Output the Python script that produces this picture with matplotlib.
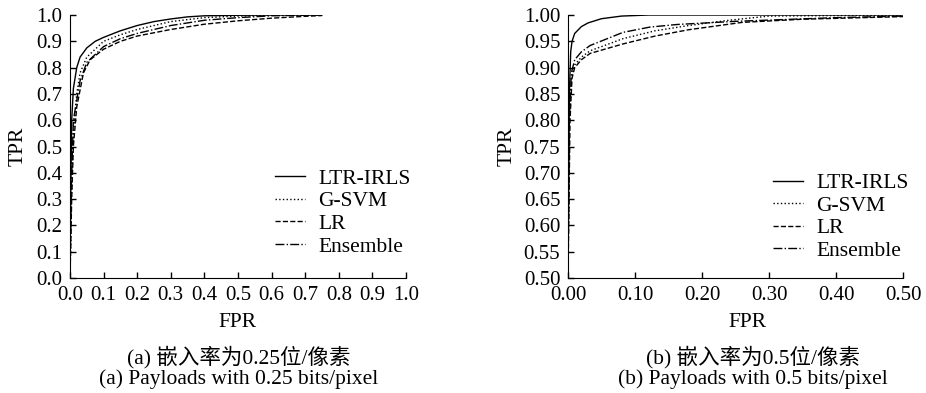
import matplotlib
matplotlib.use("Agg")
import matplotlib.pyplot as plt

plt.rcParams['font.family'] = ['Liberation Serif', 'Noto Sans CJK SC']
plt.rcParams['font.size'] = 15.5
plt.rcParams['axes.unicode_minus'] = False

# (a) payload 0.25 bits/pixel
a_ltr_x = [0, 0.002, 0.005, 0.01, 0.02, 0.03, 0.05, 0.075, 0.1, 0.15, 0.2, 0.25, 0.3, 0.35, 0.4, 0.5, 0.6, 0.75]
a_ltr_y = [0, 0.3, 0.6, 0.72, 0.8, 0.84, 0.875, 0.9, 0.915, 0.94, 0.96, 0.975, 0.985, 0.993, 0.997, 0.999, 1.0, 1.0]
a_svm_x = [0, 0.004, 0.01, 0.02, 0.03, 0.05, 0.1, 0.15, 0.2, 0.3, 0.4, 0.5, 0.6, 0.75]
a_svm_y = [0, 0.3, 0.55, 0.7, 0.78, 0.84, 0.9, 0.925, 0.945, 0.975, 0.99, 0.996, 0.999, 1.0]
a_lr_x = [0, 0.005, 0.01, 0.02, 0.04, 0.06, 0.1, 0.15, 0.2, 0.3, 0.4, 0.5, 0.6, 0.7, 0.75]
a_lr_y = [0, 0.3, 0.5, 0.65, 0.78, 0.83, 0.87, 0.9, 0.92, 0.945, 0.965, 0.978, 0.988, 0.995, 0.998]
a_ens_x = [0, 0.004, 0.01, 0.03, 0.05, 0.1, 0.15, 0.2, 0.3, 0.4, 0.5, 0.6, 0.75]
a_ens_y = [0, 0.35, 0.6, 0.75, 0.82, 0.88, 0.91, 0.93, 0.96, 0.98, 0.99, 0.997, 1.0]

# (b) payload 0.5 bits/pixel
b_ltr_x = [0, 0.002, 0.004, 0.006, 0.01, 0.02, 0.03, 0.05, 0.08, 0.12, 0.5]
b_ltr_y = [0.5, 0.85, 0.93, 0.95, 0.965, 0.978, 0.985, 0.993, 0.998, 1.0, 1.0]
b_svm_x = [0, 0.002, 0.005, 0.01, 0.02, 0.033, 0.082, 0.13, 0.18, 0.24, 0.3, 0.5]
b_svm_y = [0.5, 0.8, 0.88, 0.905, 0.92, 0.932, 0.955, 0.97, 0.98, 0.99, 0.998, 1.0]
b_lr_x = [0, 0.001, 0.003, 0.006, 0.01, 0.02, 0.033, 0.082, 0.13, 0.18, 0.26, 0.35, 0.5]
b_lr_y = [0.5, 0.6, 0.8, 0.88, 0.9, 0.915, 0.927, 0.945, 0.96, 0.972, 0.986, 0.992, 0.997]
b_ens_x = [0, 0.002, 0.005, 0.01, 0.02, 0.033, 0.082, 0.122, 0.163, 0.25, 0.4, 0.5]
b_ens_y = [0.5, 0.8, 0.89, 0.915, 0.93, 0.942, 0.967, 0.977, 0.982, 0.988, 0.995, 0.998]

labels = ['LTR-IRLS', 'G-SVM', 'LR', 'Ensemble']
styles = ['-', ':', '--', '-.']

fig = plt.figure(figsize=(9.26, 3.93), dpi=100)
ax1 = fig.add_axes([0.0756, 0.2926, 0.3628, 0.6692])
ax2 = fig.add_axes([0.6134, 0.2926, 0.3618, 0.6692])

series_a = [(a_ltr_x, a_ltr_y), (a_svm_x, a_svm_y), (a_lr_x, a_lr_y), (a_ens_x, a_ens_y)]
series_b = [(b_ltr_x, b_ltr_y), (b_svm_x, b_svm_y), (b_lr_x, b_lr_y), (b_ens_x, b_ens_y)]

legend_pos = {ax1: (0.61, 0.249), ax2: (0.612, 0.232)}

for ax, series in [(ax1, series_a), (ax2, series_b)]:
    for (x, y), lab, ls in zip(series, labels, styles):
        ax.plot(x, y, color='black', linestyle=ls, linewidth=1.0, label=lab)
    for s in ['top', 'right']:
        ax.spines[s].set_visible(False)
    ax.tick_params(direction='in', length=4, width=1, pad=5.5, labelsize=15)
    ax.legend(loc='center left', bbox_to_anchor=legend_pos[ax], frameon=False,
              handlelength=1.4, handletextpad=0.6, labelspacing=0.12,
              borderaxespad=0, borderpad=0)

ax1.set_xlim(0, 1.0)
ax1.set_ylim(0, 1.0)
ax1.set_xticks([i / 10 for i in range(11)])
ax1.set_xticklabels([f'{i / 10:.1f}' for i in range(11)])
ax1.set_yticks([i / 10 for i in range(11)])
ax1.set_yticklabels([f'{i / 10:.1f}' for i in range(11)])

ax2.set_xlim(0, 0.5)
ax2.set_ylim(0.5, 1.0)
ax2.set_xticks([0, 0.1, 0.2, 0.3, 0.4, 0.5])
ax2.set_xticklabels(['0.00', '0.10', '0.20', '0.30', '0.40', '0.50'])
ax2.set_yticks([0.5 + i * 0.05 for i in range(11)])
ax2.set_yticklabels([f'{0.5 + i * 0.05:.2f}' for i in range(11)])

ax1.set_ylabel('TPR')
ax1.set_xlabel('FPR')
ax1.yaxis.set_label_coords(-0.125, 0.5)
ax1.xaxis.set_label_coords(0.5, -0.133)
ax2.set_ylabel('TPR')
ax2.set_xlabel('FPR')
ax2.yaxis.set_label_coords(-0.152, 0.5)
ax2.xaxis.set_label_coords(0.535, -0.133)

fig.text(0.258, 0.0916, '(a) 嵌入率为0.25位/像素', ha='center', va='center')
fig.text(0.258, 0.0356, '(a) Payloads with 0.25 bits/pixel', ha='center', va='center')
fig.text(0.813, 0.0916, '(b) 嵌入率为0.5位/像素', ha='center', va='center')
fig.text(0.813, 0.0356, '(b) Payloads with 0.5 bits/pixel', ha='center', va='center')

fig.savefig('out.png', dpi=100)
